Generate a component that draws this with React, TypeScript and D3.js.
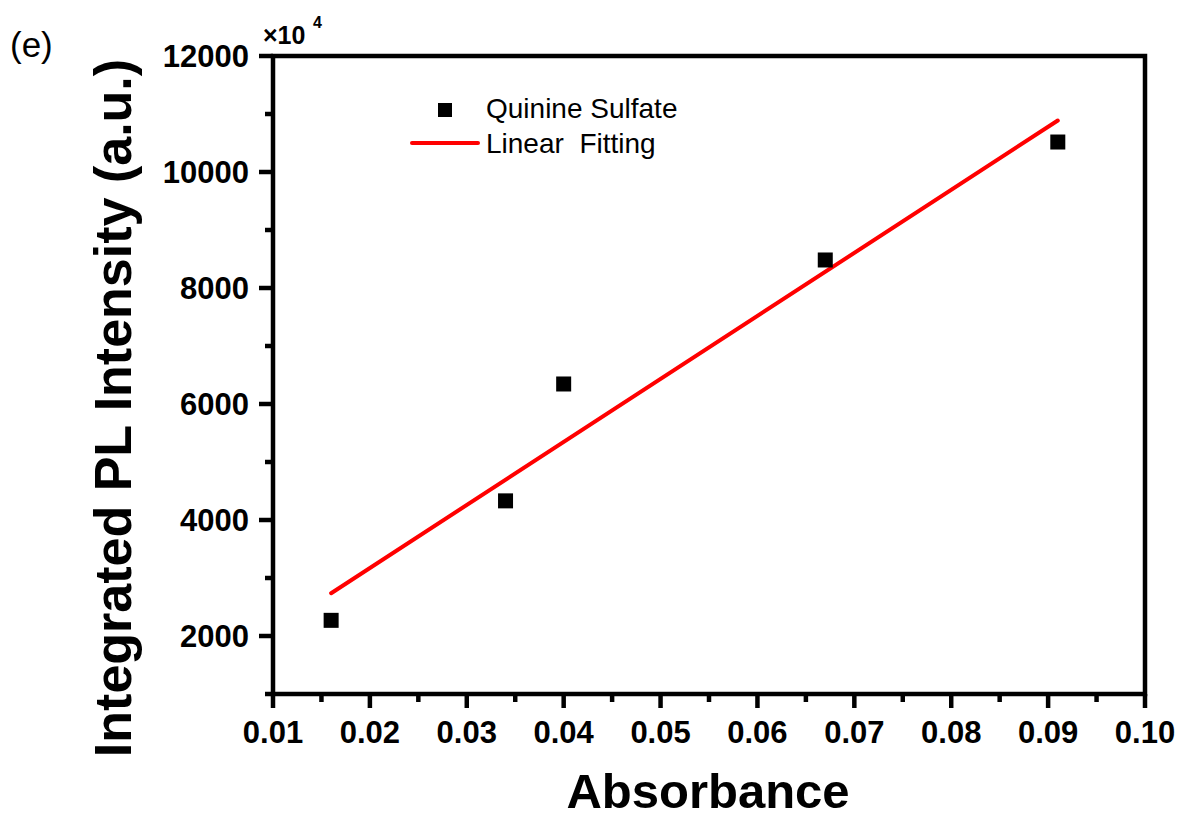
import React from "react";
import * as d3 from "d3";

const absorbance = [0.016, 0.034, 0.04, 0.067, 0.091];
const intensity = [2270, 4330, 6345, 8483, 10517];
const xTicks = [0.01, 0.02, 0.03, 0.04, 0.05, 0.06, 0.07, 0.08, 0.09, 0.1];
const yTicks = [2000, 4000, 6000, 8000, 10000, 12000];
const xMinor = [0.015, 0.025, 0.035, 0.045, 0.055, 0.065, 0.075, 0.085, 0.095];
const yMinor = [1000, 3000, 5000, 7000, 9000, 11000];

const W = 1179, H = 821;
const L = 273, R = 1145, T = 56, B = 694;
const FONT = "'Liberation Sans', Arial, Helvetica, sans-serif";

export default function App() {
  const x = d3.scaleLinear().domain([0.01, 0.1]).range([L, R]);
  const y = d3.scaleLinear().domain([1000, 12000]).range([B, T]);

  // least-squares linear fit from the data
  const mx = d3.mean(absorbance)!;
  const my = d3.mean(intensity)!;
  let sxy = 0, sxx = 0;
  absorbance.forEach((a, i) => {
    sxy += (a - mx) * (intensity[i] - my);
    sxx += (a - mx) * (a - mx);
  });
  const slope = sxy / sxx;
  const icpt = my - slope * mx;
  const x0 = d3.min(absorbance)!, x1 = d3.max(absorbance)!;
  const fit = d3.line<number>().x((d) => x(d)).y((d) => y(icpt + slope * d))([x0, x1]) || "";

  const sq = 15;
  const sw = 4.5;
  return (
    <svg width={W} height={H} style={{ position: "absolute", left: 0, top: 0, background: "#fff" }} fontFamily={FONT}>
      <rect x={0} y={0} width={W} height={H} fill="#fff" />
      <text x={10} y={57} fontSize={35} fill="#000">(e)</text>

      {/* frame */}
      <rect x={L} y={T} width={R - L} height={B - T} fill="none" stroke="#000" strokeWidth={sw} />

      {/* x ticks */}
      {xTicks.map((t) => (
        <g key={"xt" + t}>
          <line x1={x(t)} x2={x(t)} y1={B} y2={B + 14} stroke="#000" strokeWidth={sw} />
          <text x={x(t)} y={743} fontSize={31} fontWeight="bold" textAnchor="middle">{t.toFixed(2)}</text>
        </g>
      ))}
      {xMinor.map((t) => (
        <line key={"xm" + t} x1={x(t)} x2={x(t)} y1={B} y2={B + 8} stroke="#000" strokeWidth={sw} />
      ))}

      {/* y ticks */}
      {yTicks.map((t) => (
        <g key={"yt" + t}>
          <line x1={L - 14} x2={L} y1={y(t)} y2={y(t)} stroke="#000" strokeWidth={sw} />
          <text x={249} y={y(t)} dy="0.36em" fontSize={31} fontWeight="bold" textAnchor="end">{t}</text>
        </g>
      ))}
      {yMinor.map((t) => (
        <line key={"ym" + t} x1={L - 8} x2={L} y1={y(t)} y2={y(t)} stroke="#000" strokeWidth={sw} />
      ))}

      {/* multiplier */}
      <text x={263} y={44} fontSize={25} fontWeight="bold">×10</text>
      <text x={313} y={28} fontSize={16} fontWeight="bold">4</text>

      {/* fit line */}
      <path d={fit} stroke="#ff0000" strokeWidth={4} fill="none" strokeLinecap="round" />

      {/* points */}
      {absorbance.map((a, i) => (
        <rect key={"p" + i} x={x(a) - sq / 2} y={y(intensity[i]) - sq / 2} width={sq} height={sq} fill="#000" />
      ))}

      {/* legend */}
      <rect x={438} y={103} width={14} height={14} fill="#000" />
      <text x={486} y={118} fontSize={28}>Quinine Sulfate</text>
      <line x1={412} x2={478} y1={143} y2={143} stroke="#ff0000" strokeWidth={4} strokeLinecap="round" />
      <text x={486} y={153} fontSize={28} style={{ whiteSpace: "pre" }}>{"Linear  Fitting"}</text>

      {/* axis titles */}
      <text x={708} y={808} fontSize={49} fontWeight="bold" textAnchor="middle">Absorbance</text>
      <text transform="translate(131,408) rotate(-90)" fontSize={52} fontWeight="bold" textAnchor="middle">Integrated PL Intensity (a.u.)</text>
    </svg>
  );
}
